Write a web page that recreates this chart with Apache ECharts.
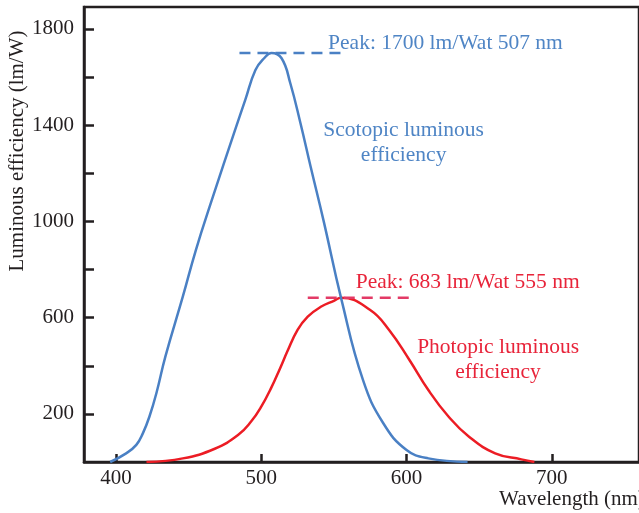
<!DOCTYPE html>
<html>
<head>
<meta charset="utf-8">
<script src="https://cdn.jsdelivr.net/npm/echarts@6/dist/echarts.min.js"></script>
<style>
html,body{margin:0;padding:0;background:#fff;}
#c{width:639px;height:513px;}
</style>
</head>
<body>
<div id="c"></div>
<script>
// Scotopic (blue) curve
const scotopicNm  = [396, 407, 414, 418.5, 423, 428, 434, 446, 455, 466, 482, 489, 496, 502, 507, 514, 520, 527, 534, 543, 555, 570, 584, 600, 615, 642];
const scotopicVal = [0,   36,  71,  119,   188, 290, 438, 687, 881, 1089,1380,1505,1629,1678,1700,1678,1574,1408,1227,1000,680, 341, 161, 50,  15,  0];
// Photopic (red) curve
const photopicNm  = [421, 446, 468, 484, 493, 500, 507, 513, 518, 525, 532, 541, 550, 555, 575, 588, 602, 615, 629, 643, 661, 679, 688];
const photopicVal = [0,   15,  55,  112, 168, 230, 310, 390, 460, 549, 604, 645, 670, 683, 632, 549, 424, 299, 188, 105, 36,  11,  0];
// Peak dashed reference lines [startNm, endNm, value]
const scotopicPeak = [485, 556, 1700];
const photopicPeak = [532, 602, 683];
// Ticks
const xTicks = [400, 500, 600, 700];
const yTicks = [200, 400, 600, 800, 1000, 1200, 1400, 1600, 1800];
const yLabels = [200, 600, 1000, 1400, 1800];

const BLUE = '#4a80c4', RED = '#ec1c24', AX = '#231f20';
const FONT = 'Liberation Serif, Times New Roman, serif';

const chart = echarts.init(document.getElementById('c'), null, {renderer:'canvas'});
const zip = (a,b) => a.map((v,i)=>[v,b[i]]);

chart.setOption({
  animation:false,
  grid:{left:84, top:7, width:562, height:455, show:true, borderColor:AX, borderWidth:2.5, backgroundColor:'transparent'},
  xAxis:{type:'value', min:378, max:760,
    axisLine:{show:true, lineStyle:{color:AX, width:2.5}},
    axisTick:{show:true, inside:true, length:8, customValues:xTicks, lineStyle:{color:AX, width:2.5}},
    axisLabel:{customValues:xTicks, formatter:v=>String(v), color:AX, fontFamily:FONT, fontSize:21, margin:6},
    splitLine:{show:false}},
  yAxis:{type:'value', min:0, max:1891,
    axisLine:{show:true, lineStyle:{color:AX, width:2.5}},
    axisTick:{show:true, inside:true, length:10, customValues:yTicks, lineStyle:{color:AX, width:2.5}},
    axisLabel:{customValues:yLabels, formatter:v=>String(v), color:AX, fontFamily:FONT, fontSize:21, margin:10},
    splitLine:{show:false}},
  series:[
    {type:'line', data:zip(scotopicNm, scotopicVal), smooth:0.45, showSymbol:false, lineStyle:{color:BLUE, width:2.5}, z:3},
    {type:'line', data:zip(photopicNm, photopicVal), smooth:0.45, showSymbol:false, lineStyle:{color:RED, width:2.5}, z:2},
    {type:'line', data:[[scotopicPeak[0],scotopicPeak[2]],[scotopicPeak[1],scotopicPeak[2]]], showSymbol:false, lineStyle:{color:BLUE, width:2.5, type:[11,7]}, z:4},
    {type:'line', data:[[photopicPeak[0],photopicPeak[2]],[photopicPeak[1],photopicPeak[2]]], showSymbol:false, lineStyle:{color:'#e33a66', width:2.5, type:[11,7]}, z:4}
  ]
});

const notes = [
  {text:'Peak: 1700 lm/Wat 507 nm', at:[546, 1741], align:'left', color:'#4f85c5'},
  {text:'Scotopic luminous\nefficiency', at:[598, 1328], align:'center', color:'#4f85c5'},
  {text:'Peak: 683 lm/Wat 555 nm', at:[565, 748], align:'left', color:'#e8243a'},
  {text:'Photopic luminous\nefficiency', at:[663, 426], align:'center', color:'#e8243a'}
];
const g = notes.map(n => {
  const p = chart.convertToPixel({gridIndex:0}, n.at);
  return {type:'text', x:p[0], y:p[1], z:10, style:{text:n.text, fill:n.color, font:'21.5px '+FONT, align:n.align, verticalAlign:'middle', lineHeight:25}};
});
g.push({type:'text', x:499, y:499, z:10, style:{text:'Wavelength (nm)', fill:AX, font:'21px '+FONT, align:'left', verticalAlign:'middle'}});
g.push({type:'text', x:17.5, y:151, rotation:Math.PI/2, z:10, style:{text:'Luminous efficiency (lm/W)', fill:AX, font:'21px '+FONT, align:'center', verticalAlign:'middle'}});
chart.setOption({graphic:g});
</script>
</body>
</html>
